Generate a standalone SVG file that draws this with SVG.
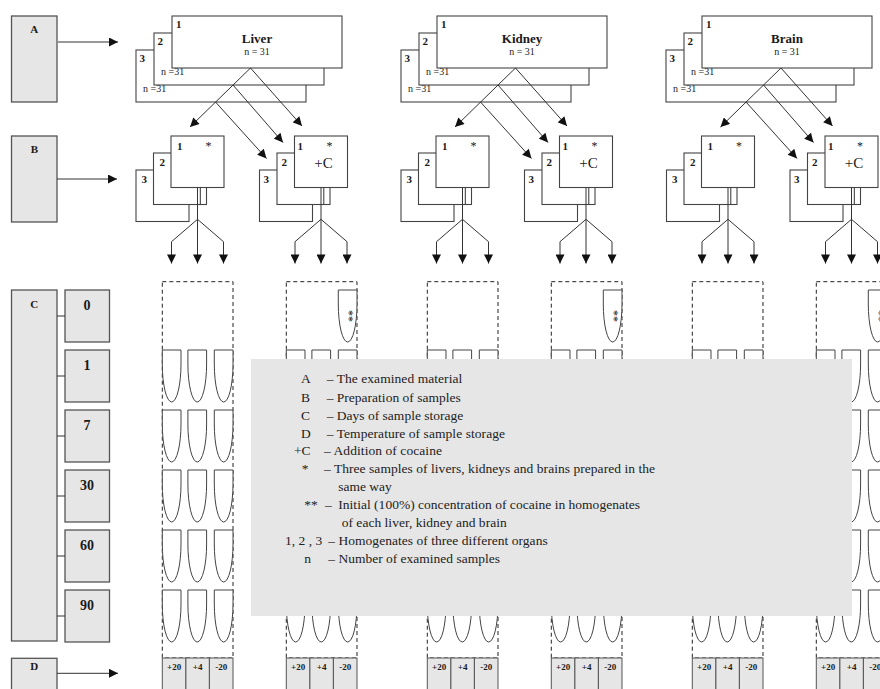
<svg xmlns="http://www.w3.org/2000/svg" xmlns:xlink="http://www.w3.org/1999/xlink" width="880" height="689" viewBox="0 0 880 689">
<style>
text{font-family:"Liberation Serif","Times New Roman",serif;fill:#1a1a1a}
.box{fill:#e6e6e6;stroke:#555;stroke-width:1.3}
.w{fill:#fff;stroke:#444;stroke-width:1.1}
.ln{fill:none;stroke:#333;stroke-width:1}
.dash{fill:none;stroke:#222;stroke-width:1;stroke-dasharray:4 3}
.tube{fill:#fff;stroke:#444;stroke-width:1}
.cell{fill:#e6e6e6;stroke:#555;stroke-width:1}
.lb{font-weight:bold;font-size:11px}
.lbc{font-weight:bold;font-size:11px;text-anchor:middle}
.day{font-weight:bold;font-size:14px;text-anchor:middle}
.nm{font-weight:bold;font-size:13px;text-anchor:middle}
.ns{font-size:10px}
.nsm{font-size:10px;text-anchor:middle}
.tp{font-weight:bold;font-size:9px;text-anchor:middle}
.st{font-size:12px}
.ast{font-size:12px;text-anchor:middle}
.pc{font-size:15px;text-anchor:middle}
.leg{font-size:13.5px;fill:#222}
.legbg{fill:#e6e6e6;stroke:none}
</style>
<defs>
<marker id="ah" viewBox="0 0 10 10" refX="10" refY="5" markerWidth="10" markerHeight="9" markerUnits="userSpaceOnUse" orient="auto">
<path d="M0,0 L10,5 L0,10 z" fill="#111"/>
</marker>
<path id="tube" class="tube" d="M0,14 V0 H18.7 V14 A9.35 38 0 0 1 0,14"/>
<g id="tubes">
<use xlink:href="#tube" x="0" y="350"/><use xlink:href="#tube" x="25.6" y="350"/><use xlink:href="#tube" x="52" y="350"/>
<use xlink:href="#tube" x="0" y="410"/><use xlink:href="#tube" x="25.6" y="410"/><use xlink:href="#tube" x="52" y="410"/>
<use xlink:href="#tube" x="0" y="470"/><use xlink:href="#tube" x="25.6" y="470"/><use xlink:href="#tube" x="52" y="470"/>
<use xlink:href="#tube" x="0" y="530"/><use xlink:href="#tube" x="25.6" y="530"/><use xlink:href="#tube" x="52" y="530"/>
<use xlink:href="#tube" x="0" y="590"/><use xlink:href="#tube" x="25.6" y="590"/><use xlink:href="#tube" x="52" y="590"/>
</g>
<g id="temps">
<rect class="cell" x="0" y="658" width="23.6" height="40"/>
<rect class="cell" x="23.6" y="658" width="23.5" height="40"/>
<rect class="cell" x="47.1" y="658" width="23.6" height="40"/>
<text class="tp" x="11.8" y="669.5">+20</text>
<text class="tp" x="35.3" y="669.5">+4</text>
<text class="tp" x="58.9" y="669.5">-20</text>
</g>
<g id="colPlain">
<rect class="dash" x="0" y="281.7" width="70.7" height="376.3"/>
<use xlink:href="#tubes"/>
<use xlink:href="#temps"/>
</g>
<g id="colC">
<rect class="dash" x="0" y="281.7" width="70.7" height="376.3"/>
<use xlink:href="#tube" x="52" y="290"/>
<text class="ast" x="0" y="0" transform="translate(58.2,316) rotate(90)">**</text>
<use xlink:href="#tubes"/>
<use xlink:href="#temps"/>
</g>
</defs>

<!-- Left category boxes -->
<g id="node-A"><rect class="box" x="11.5" y="16" width="45.5" height="86"/><text class="lbc" x="34.3" y="33">A</text></g>
<g id="node-B"><rect class="box" x="11.5" y="136" width="45.5" height="86"/><text class="lbc" x="34.3" y="152.5">B</text></g>
<g id="node-C"><rect class="box" x="11.5" y="290" width="45.5" height="351"/><text class="lbc" x="34.3" y="307.5">C</text></g>
<g id="node-D"><rect class="box" x="11.5" y="658.3" width="45.5" height="40"/><text class="lbc" x="34.3" y="670">D</text></g>
<g id="node-day0"><rect class="box" x="65" y="290" width="44.5" height="52"/><text class="day" x="87" y="310">0</text></g>
<g id="node-day1"><rect class="box" x="65" y="350" width="44.5" height="52"/><text class="day" x="87" y="370">1</text></g>
<g id="node-day7"><rect class="box" x="65" y="410" width="44.5" height="52"/><text class="day" x="87" y="430">7</text></g>
<g id="node-day30"><rect class="box" x="65" y="470" width="44.5" height="52"/><text class="day" x="87" y="490">30</text></g>
<g id="node-day60"><rect class="box" x="65" y="530" width="44.5" height="52"/><text class="day" x="87" y="550">60</text></g>
<g id="node-day90"><rect class="box" x="65" y="590" width="44.5" height="52"/><text class="day" x="87" y="610">90</text></g>

<!-- Organ stacks -->
<g id="node-liver">
<rect class="w" x="136" y="50" width="170" height="52"/><text class="lb" x="139.5" y="62">3</text><text class="ns" x="143" y="92">n =31</text>
<rect class="w" x="154" y="33" width="170" height="52"/><text class="lb" x="157.5" y="45">2</text><text class="ns" x="161" y="74.5">n =31</text>
<rect class="w" x="172" y="16" width="170" height="52"/><text class="lb" x="176" y="28">1</text>
<text class="nm" x="257" y="43">Liver</text><text class="nsm" x="257" y="55">n = 31</text>
</g>
<g id="node-kidney" transform="translate(265,0)">
<rect class="w" x="136" y="50" width="170" height="52"/><text class="lb" x="139.5" y="62">3</text><text class="ns" x="143" y="92">n =31</text>
<rect class="w" x="154" y="33" width="170" height="52"/><text class="lb" x="157.5" y="45">2</text><text class="ns" x="161" y="74.5">n =31</text>
<rect class="w" x="172" y="16" width="170" height="52"/><text class="lb" x="176" y="28">1</text>
<text class="nm" x="257" y="43">Kidney</text><text class="nsm" x="257" y="55">n = 31</text>
</g>
<g id="node-brain" transform="translate(530,0)">
<rect class="w" x="136" y="50" width="170" height="52"/><text class="lb" x="139.5" y="62">3</text><text class="ns" x="143" y="92">n =31</text>
<rect class="w" x="154" y="33" width="170" height="52"/><text class="lb" x="157.5" y="45">2</text><text class="ns" x="161" y="74.5">n =31</text>
<rect class="w" x="172" y="16" width="170" height="52"/><text class="lb" x="176" y="28">1</text>
<text class="nm" x="257" y="43">Brain</text><text class="nsm" x="257" y="55">n = 31</text>
</g>

<!-- Preparation stacks -->
<g id="node-liver-prep">
<rect class="w" x="136" y="170" width="53" height="51.5"/><text class="lb" x="141.5" y="183">3</text>
<rect class="w" x="153.5" y="153" width="53" height="51.5"/><text class="lb" x="159.5" y="166">2</text>
<rect class="w" x="171" y="136" width="53" height="51.5"/><text class="lb" x="177" y="150">1</text><text class="st" x="205.5" y="149.5">*</text>
</g>
<g id="node-liver-prepC">
<rect class="w" x="259.5" y="170" width="53" height="51.5"/><text class="lb" x="263.5" y="183">3</text>
<rect class="w" x="277" y="153" width="53" height="51.5"/><text class="lb" x="281.5" y="166">2</text>
<rect class="w" x="294.5" y="136" width="53" height="51.5"/><text class="lb" x="297.5" y="150">1</text><text class="st" x="326.5" y="149.5">*</text><text class="pc" x="323.5" y="168">+C</text>
</g>
<g id="node-kidney-prep" transform="translate(265,0)">
<rect class="w" x="136" y="170" width="53" height="51.5"/><text class="lb" x="141.5" y="183">3</text>
<rect class="w" x="153.5" y="153" width="53" height="51.5"/><text class="lb" x="159.5" y="166">2</text>
<rect class="w" x="171" y="136" width="53" height="51.5"/><text class="lb" x="177" y="150">1</text><text class="st" x="205.5" y="149.5">*</text>
</g>
<g id="node-kidney-prepC" transform="translate(265,0)">
<rect class="w" x="259.5" y="170" width="53" height="51.5"/><text class="lb" x="263.5" y="183">3</text>
<rect class="w" x="277" y="153" width="53" height="51.5"/><text class="lb" x="281.5" y="166">2</text>
<rect class="w" x="294.5" y="136" width="53" height="51.5"/><text class="lb" x="297.5" y="150">1</text><text class="st" x="326.5" y="149.5">*</text><text class="pc" x="323.5" y="168">+C</text>
</g>
<g id="node-brain-prep" transform="translate(530.5,0)">
<rect class="w" x="136" y="170" width="53" height="51.5"/><text class="lb" x="141.5" y="183">3</text>
<rect class="w" x="153.5" y="153" width="53" height="51.5"/><text class="lb" x="159.5" y="166">2</text>
<rect class="w" x="171" y="136" width="53" height="51.5"/><text class="lb" x="177" y="150">1</text><text class="st" x="205.5" y="149.5">*</text>
</g>
<g id="node-brain-prepC" transform="translate(530.5,0)">
<rect class="w" x="259.5" y="170" width="53" height="51.5"/><text class="lb" x="263.5" y="183">3</text>
<rect class="w" x="277" y="153" width="53" height="51.5"/><text class="lb" x="281.5" y="166">2</text>
<rect class="w" x="294.5" y="136" width="53" height="51.5"/><text class="lb" x="297.5" y="150">1</text><text class="st" x="326.5" y="149.5">*</text><text class="pc" x="323.5" y="168">+C</text>
</g>

<!-- Storage columns -->
<g id="node-liver-storage"><use xlink:href="#colPlain" x="162.3" y="0"/></g>
<g id="node-liver-storageC"><use xlink:href="#colC" x="286.3" y="0"/></g>
<g id="node-kidney-storage"><use xlink:href="#colPlain" x="427.3" y="0"/></g>
<g id="node-kidney-storageC"><use xlink:href="#colC" x="551.3" y="0"/></g>
<g id="node-brain-storage"><use xlink:href="#colPlain" x="692.3" y="0"/></g>
<g id="node-brain-storageC"><use xlink:href="#colC" x="816.3" y="0"/></g>

<!-- Legend -->
<g id="node-legend">
<rect class="legbg" x="251" y="359" width="601" height="257"/>
<text class="leg" x="301" y="383.3">A</text><text class="leg" x="326.7" y="383.3" textLength="135.6">– The examined material</text>
<text class="leg" x="301" y="401.5">B</text><text class="leg" x="326.7" y="401.5" textLength="134">– Preparation of samples</text>
<text class="leg" x="301" y="419.5">C</text><text class="leg" x="326.7" y="419.5" textLength="136.6">– Days of sample storage</text>
<text class="leg" x="301" y="437.5">D</text><text class="leg" x="326.7" y="437.5" textLength="178.3">– Temperature of sample storage</text>
<text class="leg" x="294" y="455.3">+C</text><text class="leg" x="324" y="455.3" textLength="118">– Addition of cocaine</text>
<text class="leg" x="301.7" y="473">*</text><text class="leg" x="324" y="473" textLength="331">– Three samples of livers, kidneys and brains prepared in the</text>
<text class="leg" x="338.3" y="491" textLength="53.4">same way</text>
<text class="leg" x="304.3" y="509">**</text><text class="leg" x="325" y="509">–</text><text class="leg" x="338.3" y="509" textLength="301.7">Initial (100%) concentration of cocaine in homogenates</text>
<text class="leg" x="341.7" y="527" textLength="165">of each liver, kidney and brain</text>
<text class="leg" x="285" y="545">1, 2 , 3</text><text class="leg" x="328.3" y="545" textLength="219.4">– Homogenates of three different organs</text>
<text class="leg" x="304.3" y="563">n</text><text class="leg" x="328.3" y="563" textLength="171.7">– Number of examined samples</text>
</g>

<!-- Connectors -->
<g id="connectors" class="ln">
<line x1="58" y1="42" x2="118" y2="42" marker-end="url(#ah)"/>
<line x1="57" y1="179" x2="117" y2="179" marker-end="url(#ah)"/>
<line x1="57" y1="673.3" x2="118" y2="673.3" marker-end="url(#ah)"/>
<path d="M57,316 H65 M57,376 H65 M57,436 H65 M57,496 H65 M57,556 H65 M57,616 H65"/>
<g id="conn-liver">
<line x1="250.5" y1="68" x2="190" y2="127" marker-end="url(#ah)"/>
<line x1="250.5" y1="68" x2="302" y2="126" marker-end="url(#ah)"/>
<line x1="233" y1="85" x2="283" y2="142.5" marker-end="url(#ah)"/>
<line x1="215.5" y1="102" x2="266.5" y2="158.5" marker-end="url(#ah)"/>
<path d="M197.5,187.5 V219.3 M200.3,187.5 V204.5 M321,187.5 V219.3 M323.8,187.5 V204.5"/>
<path d="M197.5,219.3 L171.5,241.7 V263.5" marker-end="url(#ah)"/>
<path d="M197.5,219.3 V263.5" marker-end="url(#ah)"/>
<path d="M197.5,219.3 L223.5,241.7 V263.5" marker-end="url(#ah)"/>
<path d="M321,219.3 L295,241.7 V263.5" marker-end="url(#ah)"/>
<path d="M321,219.3 V263.5" marker-end="url(#ah)"/>
<path d="M321,219.3 L347,241.7 V263.5" marker-end="url(#ah)"/>
</g>
<g id="conn-kidney" transform="translate(265,0)">
<line x1="250.5" y1="68" x2="190" y2="127" marker-end="url(#ah)"/>
<line x1="250.5" y1="68" x2="302" y2="126" marker-end="url(#ah)"/>
<line x1="233" y1="85" x2="283" y2="142.5" marker-end="url(#ah)"/>
<line x1="215.5" y1="102" x2="266.5" y2="158.5" marker-end="url(#ah)"/>
<path d="M197.5,187.5 V219.3 M200.3,187.5 V204.5 M321,187.5 V219.3 M323.8,187.5 V204.5"/>
<path d="M197.5,219.3 L171.5,241.7 V263.5" marker-end="url(#ah)"/>
<path d="M197.5,219.3 V263.5" marker-end="url(#ah)"/>
<path d="M197.5,219.3 L223.5,241.7 V263.5" marker-end="url(#ah)"/>
<path d="M321,219.3 L295,241.7 V263.5" marker-end="url(#ah)"/>
<path d="M321,219.3 V263.5" marker-end="url(#ah)"/>
<path d="M321,219.3 L347,241.7 V263.5" marker-end="url(#ah)"/>
</g>
<g id="conn-brain" transform="translate(530.5,0)">
<line x1="250.5" y1="68" x2="190" y2="127" marker-end="url(#ah)"/>
<line x1="250.5" y1="68" x2="302" y2="126" marker-end="url(#ah)"/>
<line x1="233" y1="85" x2="283" y2="142.5" marker-end="url(#ah)"/>
<line x1="215.5" y1="102" x2="266.5" y2="158.5" marker-end="url(#ah)"/>
<path d="M197.5,187.5 V219.3 M200.3,187.5 V204.5 M321,187.5 V219.3 M323.8,187.5 V204.5"/>
<path d="M197.5,219.3 L171.5,241.7 V263.5" marker-end="url(#ah)"/>
<path d="M197.5,219.3 V263.5" marker-end="url(#ah)"/>
<path d="M197.5,219.3 L223.5,241.7 V263.5" marker-end="url(#ah)"/>
<path d="M321,219.3 L295,241.7 V263.5" marker-end="url(#ah)"/>
<path d="M321,219.3 V263.5" marker-end="url(#ah)"/>
<path d="M321,219.3 L347,241.7 V263.5" marker-end="url(#ah)"/>
</g>
</g>
</svg>
